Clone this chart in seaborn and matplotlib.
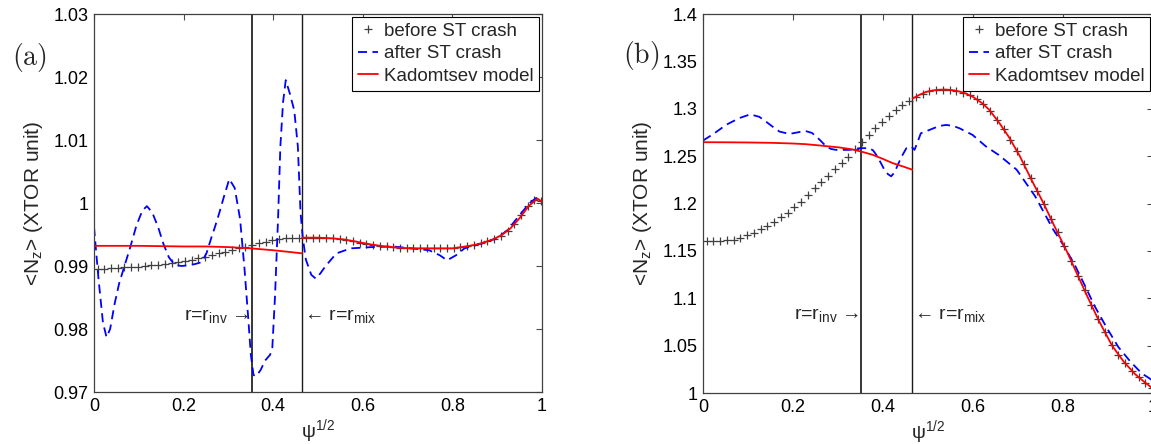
import matplotlib.pyplot as plt
import seaborn as sns

sns.set_theme(style="white")
plt.rcParams["font.family"] = ["Liberation Sans", "DejaVu Sans"]
plt.rcParams["mathtext.fontset"] = "custom"
plt.rcParams["mathtext.rm"] = "Liberation Sans"
plt.rcParams["mathtext.it"] = "Liberation Sans:italic"
plt.rcParams["mathtext.bf"] = "Liberation Sans:bold"

W, H = 1151, 444

PSI_INV = 0.352
PSI_MIX = 0.464

# sample points of the "before ST crash" profile (same grid in both panels)
psi_grid = [
    0.008, 0.023, 0.038, 0.053, 0.068, 0.083, 0.098, 0.113, 0.128, 0.143,
    0.158, 0.173, 0.188, 0.203, 0.218, 0.233, 0.248, 0.263, 0.278, 0.293,
    0.308, 0.323, 0.338, 0.353, 0.368, 0.383, 0.398, 0.413, 0.428, 0.443,
    0.458, 0.473, 0.488, 0.503, 0.518, 0.533, 0.548, 0.563, 0.578, 0.593,
    0.608, 0.623, 0.638, 0.653, 0.668, 0.683, 0.698, 0.713, 0.728, 0.743,
    0.758, 0.773, 0.788, 0.803, 0.818, 0.833, 0.848, 0.863, 0.878, 0.893,
    0.908, 0.923, 0.938, 0.953, 0.968, 0.983, 0.998,
]

# ---- panel (a) ----
a_before = [
    0.9896, 0.9896, 0.9897, 0.9897, 0.9898, 0.9898, 0.9899, 0.9900, 0.9901, 0.9902,
    0.9903, 0.9905, 0.9906, 0.9908, 0.9910, 0.9912, 0.9915, 0.9917, 0.9920, 0.9923,
    0.9925, 0.9928, 0.9930, 0.9933, 0.9936, 0.9938, 0.9941, 0.9943, 0.9944, 0.9944,
    0.9945, 0.9945, 0.9945, 0.9945, 0.9945, 0.9944, 0.9943, 0.9941, 0.9939, 0.9937,
    0.9935, 0.9933, 0.9932, 0.9931, 0.9930, 0.9929, 0.9929, 0.9928, 0.9928, 0.9928,
    0.9928, 0.9928, 0.9928, 0.9929, 0.9930, 0.9932, 0.9934, 0.9936, 0.9939, 0.9943,
    0.9948, 0.9955, 0.9967, 0.9981, 0.9995, 1.0004, 1.0003,
]
a_after_x = [
    0.000, 0.010, 0.020, 0.028, 0.036, 0.046, 0.056, 0.068, 0.081, 0.095,
    0.108, 0.118, 0.130, 0.143, 0.155, 0.167, 0.180, 0.195, 0.210, 0.225,
    0.240, 0.251, 0.262, 0.270, 0.280, 0.290, 0.302, 0.314, 0.326, 0.336,
    0.344, 0.350, 0.356, 0.362, 0.372, 0.382, 0.393, 0.398, 0.404, 0.411,
    0.416, 0.422, 0.428, 0.437, 0.447, 0.455, 0.461, 0.466, 0.473, 0.485,
    0.495, 0.505, 0.517, 0.541, 0.573, 0.620, 0.668, 0.708, 0.748, 0.772,
    0.788, 0.808, 0.827, 0.867, 0.899, 0.923, 0.947, 0.971, 0.987, 1.000,
]
a_after_y = [
    0.9962, 0.9880, 0.9810, 0.9787, 0.9800, 0.9840, 0.9872, 0.9900, 0.9930, 0.9965,
    0.9988, 0.9995, 0.9985, 0.9962, 0.9935, 0.9914, 0.9902, 0.9900, 0.9901, 0.9903,
    0.9906, 0.9920, 0.9945, 0.9962, 0.9985, 1.0010, 1.0038, 1.0024, 0.9975, 0.9895,
    0.9820, 0.9760, 0.9727, 0.9725, 0.9735, 0.9750, 0.9759, 0.9770, 0.9851, 0.9978,
    1.0090, 1.0160, 1.0195, 1.0174, 1.0147, 1.0090, 0.9985, 0.9945, 0.9910, 0.9886,
    0.9880, 0.9888, 0.9900, 0.9920, 0.9928, 0.9930, 0.9931, 0.9928, 0.9925, 0.9917,
    0.9909, 0.9917, 0.9928, 0.9936, 0.9944, 0.9957, 0.9978, 0.9999, 1.0008, 1.0002,
]
a_kad_in_x = [0.0, 0.1, 0.2, 0.25, 0.3, 0.35, 0.4, 0.44, 0.465]
a_kad_in_y = [0.9932, 0.9932, 0.9931, 0.9931, 0.9930, 0.9928, 0.9925, 0.9922, 0.9920]
a_kad_out_x = [0.465, 0.5, 0.53, 0.56, 0.59, 0.62, 0.65, 0.68, 0.71, 0.74, 0.77,
               0.80, 0.83, 0.86, 0.89, 0.91, 0.93, 0.95, 0.97, 0.99, 1.0]
a_kad_out_y = [0.9945, 0.9945, 0.9944, 0.9942, 0.9938, 0.9934, 0.9931, 0.9929, 0.9928,
               0.9928, 0.9928, 0.9928, 0.9931, 0.9935, 0.9942, 0.9949, 0.9960, 0.9976,
               0.9995, 1.0007, 1.0002]
a_yticks = [0.97, 0.98, 0.99, 1.0, 1.01, 1.02, 1.03]
a_ylabels = ["0.97", "0.98", "0.99", "1", "1.01", "1.02", "1.03"]

# ---- panel (b) ----
b_before = [
    1.1600, 1.1600, 1.1605, 1.1610, 1.1620, 1.1640, 1.1665, 1.1690, 1.1727, 1.1765,
    1.1805, 1.1855, 1.1905, 1.1965, 1.2020, 1.2085, 1.2160, 1.2230, 1.2295, 1.2365,
    1.2430, 1.2495, 1.2570, 1.2650, 1.2725, 1.2800, 1.2865, 1.2925, 1.2990, 1.3040,
    1.3085, 1.3125, 1.3160, 1.3185, 1.3198, 1.3203, 1.3200, 1.3190, 1.3170, 1.3140,
    1.3100, 1.3050, 1.2980, 1.2885, 1.2785, 1.2675, 1.2550, 1.2415, 1.2270, 1.2130,
    1.1990, 1.1840, 1.1700, 1.1550, 1.1395, 1.1240, 1.1085, 1.0925, 1.0780, 1.0640,
    1.0510, 1.0405, 1.0315, 1.0235, 1.0165, 1.0110, 1.0050,
]
b_after_x = [
    0.000, 0.025, 0.051, 0.080, 0.105, 0.125, 0.140, 0.155, 0.170, 0.192,
    0.215, 0.230, 0.242, 0.252, 0.263, 0.274, 0.285, 0.296, 0.326, 0.348,
    0.370, 0.378, 0.385, 0.395, 0.403, 0.411, 0.418, 0.426, 0.433, 0.442,
    0.452, 0.463, 0.470, 0.477, 0.484, 0.503, 0.525, 0.540, 0.555, 0.570,
    0.599, 0.629, 0.657, 0.697, 0.738, 0.778, 0.802, 0.827, 0.850, 0.871,
    0.897, 0.923, 0.950, 0.975, 0.992, 1.000,
]
b_after_y = [
    1.2664, 1.2740, 1.2829, 1.2900, 1.2941, 1.2915, 1.2864, 1.2810, 1.2759, 1.2734,
    1.2755, 1.2762, 1.2745, 1.2706, 1.2655, 1.2601, 1.2575, 1.2566, 1.2566, 1.2584,
    1.2584, 1.2560, 1.2514, 1.2430, 1.2357, 1.2310, 1.2287, 1.2330, 1.2409, 1.2500,
    1.2584, 1.2601, 1.2566, 1.2650, 1.2741, 1.2776, 1.2818, 1.2829, 1.2820, 1.2794,
    1.2724, 1.2601, 1.2513, 1.2357, 1.2077, 1.1727, 1.1552, 1.1343, 1.1120, 1.0911,
    1.0690, 1.0485, 1.0330, 1.0207, 1.0155, 1.0125,
]
b_kad_in_x = [0.0, 0.05, 0.10, 0.155, 0.20, 0.229, 0.26, 0.304, 0.33, 0.351,
              0.377, 0.40, 0.421, 0.445, 0.465]
b_kad_in_y = [1.2647, 1.2646, 1.2644, 1.2640, 1.2633, 1.2626, 1.2612, 1.2591, 1.2572,
              1.2549, 1.2514, 1.2470, 1.2427, 1.2390, 1.2357]
b_kad_out_x = [0.466, 0.480, 0.496, 0.510, 0.525, 0.539, 0.555, 0.570, 0.584, 0.600,
               0.621, 0.636, 0.660, 0.680, 0.704, 0.730, 0.757, 0.780, 0.810, 0.830,
               0.855, 0.880, 0.909, 0.935, 0.960, 0.980, 1.000]
b_kad_out_y = [1.3108, 1.3145, 1.3178, 1.3193, 1.3201, 1.3203, 1.3196, 1.3182, 1.3161,
               1.3125, 1.3056, 1.2990, 1.2840, 1.2700, 1.2500, 1.2250, 1.2000, 1.1770,
               1.1480, 1.1270, 1.1010, 1.0760, 1.0500, 1.0330, 1.0200, 1.0120, 1.0045]
b_yticks = [1.0, 1.05, 1.1, 1.15, 1.2, 1.25, 1.3, 1.35, 1.4]
b_ylabels = ["1", "1.05", "1.1", "1.15", "1.2", "1.25", "1.3", "1.35", "1.4"]

x_ticks = [0, 0.2, 0.4, 0.6, 0.8, 1.0]
x_labels = ["0", "0.2", "0.4", "0.6", "0.8", "1"]


def draw_panel(ax, before, after_x, after_y, kin_x, kin_y, kout_x, kout_y,
               yticks, ylabels, arrow_y):
    ax.axvline(PSI_INV, color="0.15", linewidth=1.3, zorder=1)
    ax.axvline(PSI_MIX, color="k", linewidth=1.0, zorder=1)

    common = dict(ax=ax, sort=False, estimator=None, errorbar=None)
    sns.lineplot(x=psi_grid, y=before, color="0.25", linestyle="", marker="+",
                 markersize=6, mew=0.9, mec="0.25", label="before ST crash", **common)
    sns.lineplot(x=after_x, y=after_y, color="#0000ff", linewidth=1.3,
                 linestyle=(0, (5, 3)), label="after ST crash", **common)
    sns.lineplot(x=kin_x, y=kin_y, color="#ff0000", linewidth=1.3, **common)
    sns.lineplot(x=kout_x, y=kout_y, color="#ff0000", linewidth=1.3,
                 label="Kadomtsev model", **common)

    ax.set_xlim(0, 1)
    ax.set_ylim(yticks[0], yticks[-1])
    ax.set_xticks(x_ticks, labels=x_labels)
    ax.set_yticks(yticks, labels=ylabels)
    ax.tick_params(direction="in", length=4, width=0.8, color="0.3",
                   top=True, right=True, labelsize=13, labelcolor="black", pad=4)
    for spine in ax.spines.values():
        spine.set_color("0.25")
        spine.set_linewidth(0.9)

    ax.set_xlabel("ψ$^\\mathrm{1/2}$", fontsize=14, labelpad=2)
    ax.set_ylabel("<N$_\\mathrm{z}$> (XTOR unit)", fontsize=15, labelpad=6)

    ax.text(PSI_INV - 0.004, arrow_y, "r=r$_\\mathrm{inv}$ →", ha="right",
            va="baseline", fontsize=14)
    ax.text(PSI_MIX + 0.004, arrow_y, "← r=r$_\\mathrm{mix}$", ha="left",
            va="baseline", fontsize=14)

    leg = ax.legend(loc="upper right", bbox_to_anchor=(1, 1), borderaxespad=0.15,
                    fontsize=13.5, handlelength=1.1, handletextpad=0.3,
                    labelspacing=0.3, borderpad=0.3, fancybox=False,
                    framealpha=1, edgecolor="black")
    leg.get_frame().set_linewidth(0.8)


fig = plt.figure(figsize=(W / 100, H / 100), dpi=100)
ax_a = fig.add_axes([94 / W, (H - 392) / H, 448 / W, 378 / H])
ax_b = fig.add_axes([703 / W, (H - 393) / H, 450 / W, 379 / H])

draw_panel(ax_a, a_before, a_after_x, a_after_y, a_kad_in_x, a_kad_in_y,
           a_kad_out_x, a_kad_out_y, a_yticks, a_ylabels, 0.9814)
draw_panel(ax_b, b_before, b_after_x, b_after_y, b_kad_in_x, b_kad_in_y,
           b_kad_out_x, b_kad_out_y, b_yticks, b_ylabels, 1.078)

fig.text(29 / W, 1 - 58 / H, r"$\mathrm{(a)}$", math_fontfamily="cm",
         fontsize=20, ha="center", va="center")
fig.text(641 / W, 1 - 55 / H, r"$\mathrm{(b)}$", math_fontfamily="cm",
         fontsize=20, ha="center", va="center")

fig.savefig("out.png", dpi=100)
